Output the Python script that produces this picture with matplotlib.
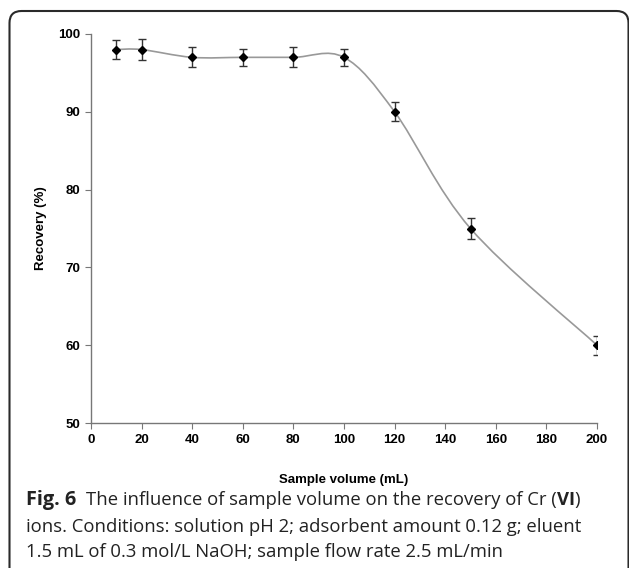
import numpy as np
import matplotlib.pyplot as plt
from matplotlib.path import Path
from matplotlib.patches import PathPatch, FancyBboxPatch
from matplotlib.transforms import IdentityTransform

# data
volume = [10, 20, 40, 60, 80, 100, 120, 150, 200]
recovery = [98, 98, 97, 97, 97, 97, 90, 75, 60]
err = [1.2, 1.3, 1.3, 1.1, 1.3, 1.1, 1.2, 1.3, 1.2]

W, H = 629, 568
fig = plt.figure(figsize=(W / 100, H / 100), dpi=100)

# rounded frame around figure + caption (pixel coords, origin bottom-left)
frame = FancyBboxPatch((9.5, -30), 619, H - 11 + 30, boxstyle="round,pad=0,rounding_size=12",
                       transform=IdentityTransform(), fill=False, edgecolor="#2a2a2a", linewidth=1.5)
fig.patches.append(frame)

left, right, top, bottom = 91, 597, 34, 423
ax = fig.add_axes([left / W, 1 - bottom / H, (right - left) / W, (bottom - top) / H])

# smoothed line (Excel style bezier through the points)
pts = np.column_stack([volume, recovery]).astype(float)
verts = [pts[0]]
codes = [Path.MOVETO]
n = len(pts)
for i in range(n - 1):
    p0 = pts[i - 1] if i > 0 else pts[i]
    p1 = pts[i]
    p2 = pts[i + 1]
    p3 = pts[i + 2] if i + 2 < n else pts[i + 1]
    c1 = p1 + (p2 - p0) / 6.0
    c2 = p2 - (p3 - p1) / 6.0
    verts += [c1, c2, p2]
    codes += [Path.CURVE4] * 3
ax.add_patch(PathPatch(Path(verts, codes), fill=False, edgecolor="#999999", linewidth=1.2))

ax.errorbar(volume, recovery, yerr=err, fmt="D", color="black", markersize=3.8,
            ecolor="#333333", elinewidth=1, capsize=3, capthick=1)

ax.set_xlim(0, 200)
ax.set_ylim(50, 100)
ax.set_xticks(range(0, 201, 20))
ax.set_yticks(range(50, 101, 10))
for s in ["top", "right"]:
    ax.spines[s].set_visible(False)
for s in ["left", "bottom"]:
    ax.spines[s].set_color("#777777")
    ax.spines[s].set_linewidth(1.0)
ax.tick_params(direction="out", length=4, color="#777777", labelsize=9.5, pad=4)
for lab in ax.get_xticklabels() + ax.get_yticklabels():
    lab.set_fontfamily("Liberation Sans")
    lab.set_fontweight("bold")

ax.set_xlabel("Sample volume (mL)", fontfamily="Liberation Sans", fontweight="bold", fontsize=9.5)
ax.set_ylabel("Recovery (%)", fontfamily="Liberation Sans", fontweight="bold", fontsize=9.5)
ax.xaxis.set_label_coords(0.5, -(480 - bottom) / (bottom - top))
ax.xaxis.label.set_va("center")
ax.yaxis.set_label_coords(-(left - 41) / (right - left), 0.5)
ax.yaxis.label.set_va("center")

# caption
cap = dict(fontfamily="Open Sans", fontsize=13.3, color="#222222", transform=fig.transFigure, va="baseline")
x0 = 26 / W
y1 = 1 - 505 / H
fig.text(x0, y1, "Fig. 6", fontweight="bold", **{**cap, "fontsize": 14.3})
fig.canvas.draw()
r = fig.canvas.get_renderer()
t2 = fig.text(86 / W, y1, "The influence of sample volume on the recovery of Cr (", **cap)
x = t2.get_window_extent(r).x1 / W
t3 = fig.text(x, y1, "VI", fontweight="bold", **cap)
x = t3.get_window_extent(r).x1 / W
fig.text(x, y1, ")", **cap)
fig.text(x0, 1 - 532 / H, "ions. Conditions: solution pH 2; adsorbent amount 0.12 g; eluent", **cap)
fig.text(x0, 1 - 557 / H, "1.5 mL of 0.3 mol/L NaOH; sample flow rate 2.5 mL/min", **cap)

fig.savefig("out.png", dpi=100)
